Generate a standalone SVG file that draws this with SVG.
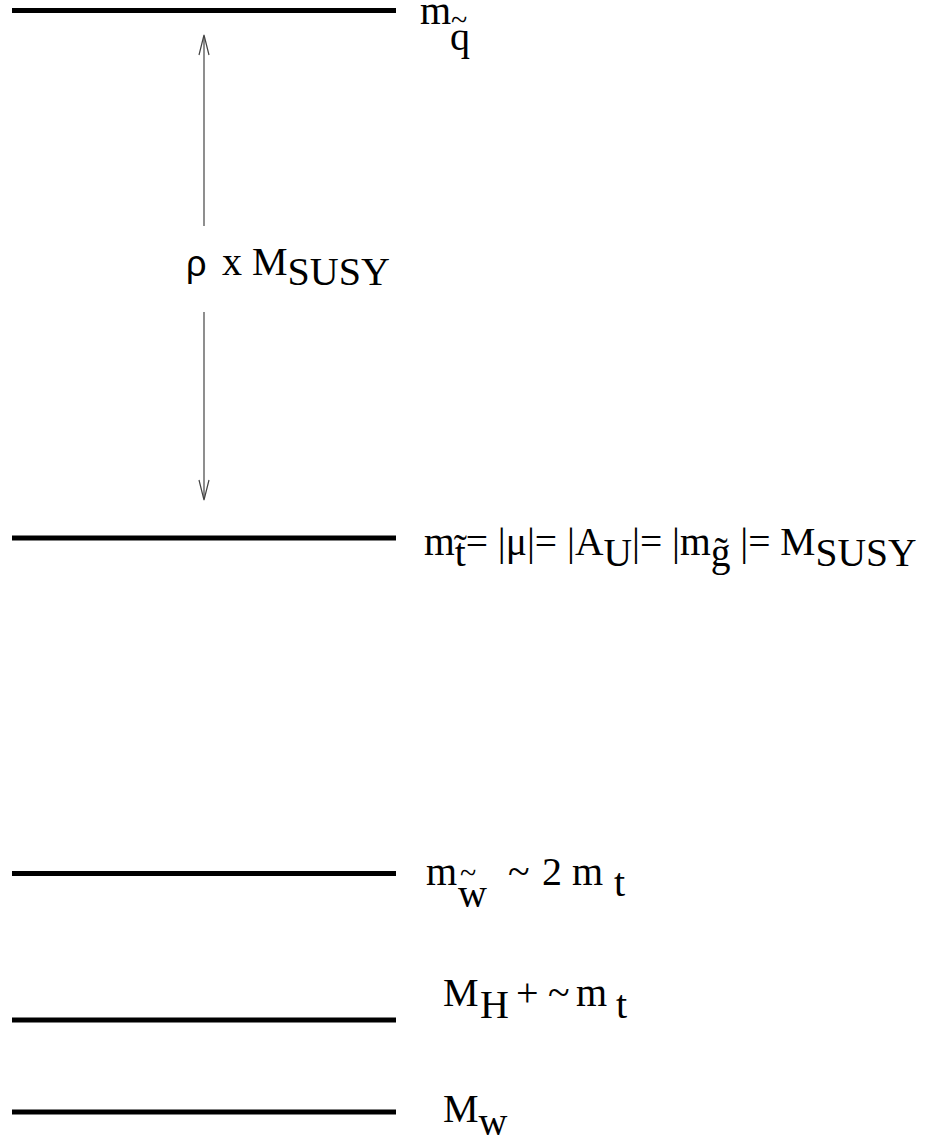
<svg xmlns="http://www.w3.org/2000/svg" width="932" height="1141" viewBox="0 0 932 1141">
<style>
.lvl{stroke:#000;stroke-width:5;fill:none}
.arr{stroke:#444;stroke-width:1.2;fill:none}
.t{font-family:"Liberation Serif","Times New Roman",serif;font-size:40px;fill:#000}
.tl{font-family:"Liberation Serif","Times New Roman",serif;font-size:30px;fill:#000}
.s{font-family:"Liberation Sans",Arial,sans-serif;font-size:36px;fill:#000}
</style>
<rect width="932" height="1141" fill="#fff"/>
<g id="levels">
<g id="level-squark"><line class="lvl" x1="12" y1="10.5" x2="396" y2="10.5"/>
<text class="t" x="420" y="24">m</text><text class="tl" x="451" y="30">~</text><text class="t" x="450" y="50">q</text></g>
<g id="level-susy"><line class="lvl" x1="12" y1="538" x2="396" y2="538"/>
<text class="t" x="424" y="555" style="font-size:39.5px">m<tspan dy="11">t̃</tspan><tspan dy="-11">= |μ|= |A</tspan><tspan dy="11">U</tspan><tspan dy="-11">|= |m</tspan><tspan dy="11">g̃</tspan><tspan dy="-11"> |= M</tspan><tspan dy="11">SUSY</tspan></text></g>
<g id="level-wino"><line class="lvl" x1="12" y1="873.5" x2="396" y2="873.5"/>
<text class="t" x="426" y="885">m</text><text class="tl" x="460" y="883">~</text><text class="t" x="458" y="907">w</text><text class="t" x="508" y="885">~</text><text class="t" x="542" y="885">2</text><text class="t" x="572" y="885">m</text><text class="t" x="614" y="896">t</text></g>
<g id="level-higgs"><line class="lvl" x1="12" y1="1020" x2="396" y2="1020"/>
<text class="t" x="443" y="1006">M</text><text class="t" x="480" y="1018">H</text><text class="t" x="516" y="1006">+</text><text class="t" x="548" y="1006">~</text><text class="t" x="576" y="1006">m</text><text class="t" x="616" y="1018">t</text></g>
<g id="level-w"><line class="lvl" x1="12" y1="1112" x2="396" y2="1112"/>
<text class="t" x="443" y="1122">M<tspan dy="13">w</tspan></text></g>
</g>
<g id="connectors">
<line class="arr" x1="204" y1="36" x2="204" y2="226"/>
<polyline class="arr" points="199,55 204,35 209,55"/>
<line class="arr" x1="204" y1="312" x2="204" y2="499"/>
<polyline class="arr" points="199,480 204,500 209,480"/>
</g>
<g id="label-rho"><text class="s" x="186" y="276">ρ</text><text class="t" x="222" y="275">x</text><text class="t" x="252" y="275">M<tspan dy="10">SUSY</tspan></text></g>
</svg>
